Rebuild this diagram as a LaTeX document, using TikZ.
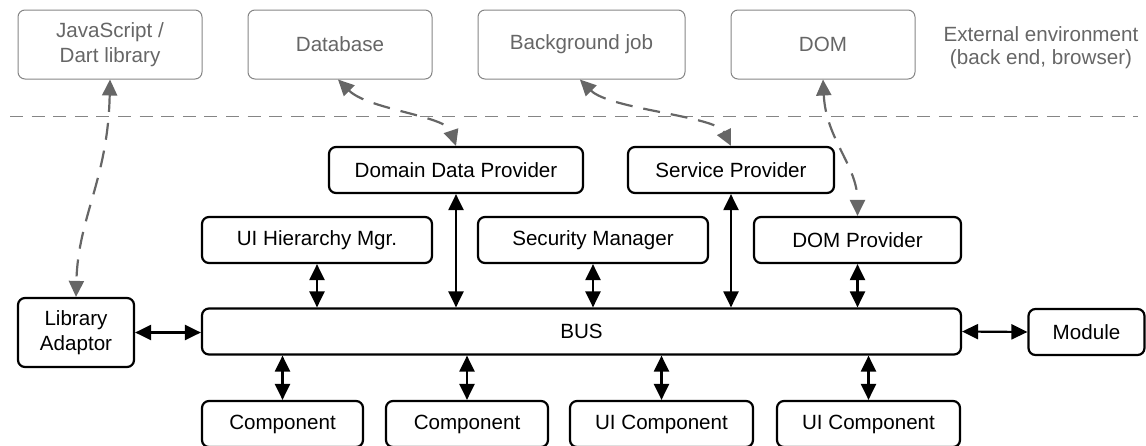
\documentclass[tikz,border=0pt]{standalone}
\usepackage{fontspec}
\setmainfont{Liberation Sans}
\usepackage{tikz}
\usetikzlibrary{arrows.meta}
\usetikzlibrary{calc}

\definecolor{extgray}{HTML}{666666}
\definecolor{linegray}{HTML}{858585}

\begin{document}
\begin{tikzpicture}[x=0.5pt, y=-0.5pt,
    basefont/.style={font=\fontsize{10.3}{12.5}\selectfont, align=center},
    extbox/.style={basefont, draw=linegray, text=extgray, line width=0.5pt,
        rounded corners=3.5pt, minimum height=34.5pt},
    busbox/.style={basefont, draw, line width=1.1pt, rounded corners=3.5pt,
        minimum height=23pt},
    link/.style={line width=1.1pt,
        {Triangle[length=8pt,width=7.5pt]}-{Triangle[length=8pt,width=7.5pt]}},
    extlink/.style={extgray, line width=1.1pt, dash pattern=on 8.5pt off 5.5pt,
        {Triangle[length=8pt,width=7.5pt]}-{Triangle[length=8pt,width=7.5pt]}}]
    \useasboundingbox (0,0) rectangle (1146,445);
    % External environment
    \node[extbox, minimum width=92pt] (jslib) at (110,44.5) {JavaScript /\\Dart library};
    \node[extbox, minimum width=92pt] (db) at (340,44.5) {Database};
    \node[extbox, minimum width=103.5pt] (bgjob) at (581.5,44.5) {Background job};
    \node[extbox, minimum width=92pt] (dom) at (823,44.5) {DOM};
    \node[basefont, text=extgray, font=\fontsize{10.3}{11.5}\selectfont] (envlabel) at (1041,48)
        {External environment\\(back end, browser)};
    % Boundary
    \draw[linegray, line width=0.5pt, dash pattern=on 6.5pt off 4.3pt] (10,116) -- (1138,116);
    % Providers and managers
    \node[busbox, minimum width=127pt] (ddprov) at (456,170) {Domain Data Provider};
    \node[busbox, minimum width=103pt] (servprov) at (731,170) {Service Provider};
    \node[busbox, minimum width=115pt] (uihier) at (317,240) {UI Hierarchy Mgr.};
    \node[busbox, minimum width=115pt] (secmgr) at (593,240) {Security Manager};
    \node[busbox, minimum width=103.5pt] (domprov) at (857.5,240) {DOM Provider};
    % Bus and its neighbours
    \node[busbox, minimum width=379.5pt] (bus) at (581.5,331.5) {BUS};
    \node[busbox, minimum width=58pt, minimum height=34.5pt] (libadapt) at (76,332.5) {Library\\Adaptor};
    \node[busbox, minimum width=58pt] (module) at (1086.5,332) {Module};
    % Components
    \node[busbox, minimum width=80.5pt] (comp1) at (282.5,424) {Component};
    \node[busbox, minimum width=81pt] (comp2) at (467,424) {Component};
    \node[busbox, minimum width=91.5pt] (uicomp1) at (661.5,424) {UI Component};
    \node[busbox, minimum width=91.5pt] (uicomp2) at (868.5,424) {UI Component};
    % Links to the bus
    \foreach \n in {ddprov,servprov,uihier,secmgr,domprov} {
        \draw[link] (\n.south) -- (\n.south |- bus.north);
    }
    \foreach \n in {comp1,comp2,uicomp1,uicomp2} {
        \draw[link] (bus.south -| \n.north) -- (\n.north);
    }
    \draw[link] (libadapt.east) -- (libadapt.east -| bus.west);
    \draw[link] (bus.east) -- (module.west);
    % Links to the external environment
    \draw[extlink] (jslib.south) .. controls +(-2,100) and +(2,-80) .. (libadapt.north);
    \draw[extlink] ([xshift=-1pt]db.south) .. controls +(30,30) and +(-10,-30) .. (ddprov.north);
    \draw[extlink] ([xshift=-0.8pt]bgjob.south) .. controls +(30,30) and +(-15,-30) .. (servprov.north);
    \draw[extlink] (dom.south) .. controls +(3,60) and +(0,-50) .. (domprov.north);
\end{tikzpicture}
\end{document}
